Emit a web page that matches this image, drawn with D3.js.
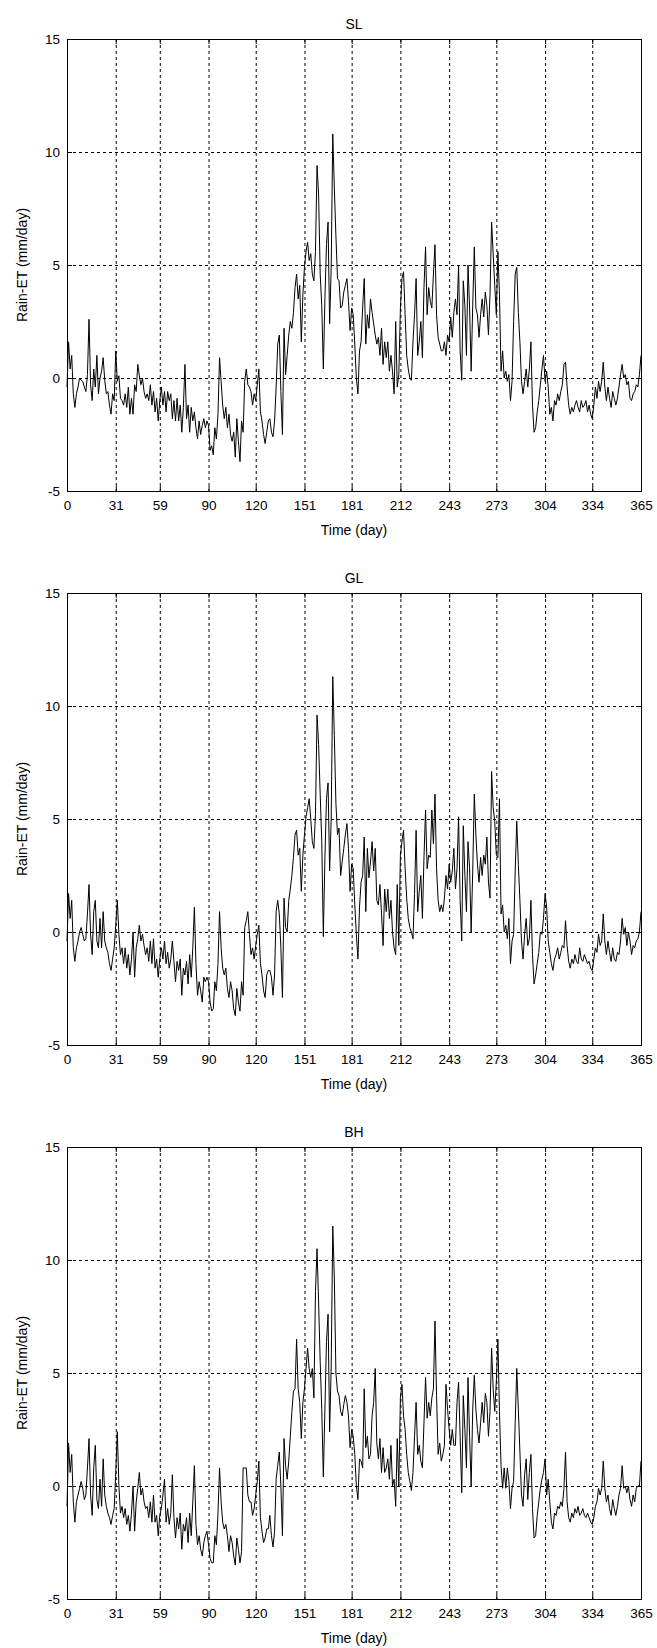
<!DOCTYPE html>
<html>
<head>
<meta charset="utf-8">
<script src="https://cdn.jsdelivr.net/npm/d3@7"></script>
<style>
  body { margin: 0; background: #fff; }
  text { font-family: "Liberation Sans", Arial, sans-serif; }
</style>
</head>
<body>
<div id="chart"></div>
<script>
// x ticks are month starts (days), y ticks in mm/day
const dayTicks = [0, 31, 59, 90, 120, 151, 181, 212, 243, 273, 304, 334, 365];
const valueTicks = [-5, 0, 5, 10, 15];
const panelTitles = ["SL", "GL", "BH"];

// daily Rain-ET (mm/day), day 0..365
const slValues = [
  -0.4, 1.6, 0.4, 1.0, -0.7, -1.3, -0.7, -0.4, 0.0, -0.1,
  -0.15, -0.4, -0.6, 0.15, 2.6, -0.3, -1.0, 0.4, -0.4, 1.0,
  -0.7, 0.0, 0.3, 0.9, -0.1, -0.7, -0.6, -1.2, -1.6, -0.7,
  -1.0, 1.2, -0.15, 0.1, -0.9, -1.0, -1.2, -0.7, -1.3, -0.4,
  -1.6, -0.9, -1.6, -0.3, -0.6, 0.6, 0.1, -0.3, 0.0, -0.6,
  -0.9, -0.7, -1.0, -0.3, -1.2, -0.6, -1.5, -0.9, -1.9, -1.0,
  -0.4, -1.2, -0.6, -1.5, -0.6, -1.0, -0.7, -1.8, -1.0, -1.9,
  -0.9, -1.9, -1.2, -2.4, -1.3, 0.6, -1.8, -1.2, -2.4, -1.3,
  -1.9, -1.5, -2.2, -2.7, -1.9, -2.5, -2.1, -1.8, -2.2, -1.9,
  -2.1, -3.2, -3.0, -3.4, -2.2, -2.7, -1.6, 0.9, -0.15, -1.2,
  -1.8, -1.3, -2.2, -1.6, -2.5, -2.8, -2.4, -3.5, -1.8, -2.8,
  -3.7, -1.9, -2.4, -0.15, 0.4, -0.3, -0.4, -0.6, -1.2, -0.7,
  -1.0, -0.3, 0.4, -1.5, -1.9, -2.5, -2.9, -2.4, -1.9, -1.8,
  -2.4, -2.6, -1.9, -0.4, 1.5, 1.9, -0.6, -2.5, 2.2, 0.15,
  1.0, 1.9, 2.5, 2.2, 2.9, 4.0, 4.6, 3.5, 4.1, 1.6,
  3.7, 4.9, 5.6, 6.0, 5.2, 5.5, 4.6, 4.3, 5.6, 9.4,
  8.1, 4.6, 3.2, 0.4, 3.5, 5.9, 6.9, 2.4, 4.9, 10.8,
  8.4, 6.3, 4.4, 4.3, 3.1, 3.2, 3.8, 4.1, 4.4, 3.4,
  2.1, 3.1, 2.8, 1.5, 0.0, -0.7, 1.2, 1.6, 3.1, 4.4,
  1.5, 2.8, 2.2, 3.5, 2.9, 2.4, 1.9, 1.5, 1.8, 1.0,
  2.2, 0.6, 1.6, 0.9, 1.6, 0.3, 1.0, 0.3, -0.7, 2.5,
  -0.4, 0.15, 3.1, 4.4, 4.7, 2.8, 1.0, 0.4, 0.0, -0.1,
  1.6, 2.8, 4.4, 1.0, 1.6, 2.5, 0.9, 4.0, 5.8, 2.8,
  4.0, 3.4, 3.1, 4.6, 5.9, 2.8, 1.8, 1.5, 1.2, 1.2,
  1.6, 1.0, 1.9, 1.6, 2.7, 1.8, 2.9, 3.5, 2.8, 5.0,
  1.2, -0.1, 4.3, 3.2, 1.0, 5.0, 3.1, 0.3, 3.2, 5.8,
  3.1, 2.8, 1.8, 2.8, 3.5, 2.7, 3.8, 3.2, 1.9, 3.7,
  6.9, 5.5, 4.1, 2.8, 5.6, 3.7, 0.3, 1.2, 0.0, 0.3,
  -0.15, 0.15, -1.0, -0.15, 2.5, 4.6, 4.9, 2.9, 1.6, -0.15,
  -0.7, -0.15, 0.4, -0.4, 0.4, 1.6, -1.2, -2.4, -2.2, -1.5,
  -1.0, -0.3, 0.4, 1.0, -0.15, 0.3, -0.4, -1.6, -1.3, -1.9,
  -1.0, -1.2, -0.7, -1.0, -0.6, -0.3, 0.6, 0.7, -0.4, -1.2,
  -1.6, -1.3, -1.5, -1.2, -1.0, -1.3, -1.5, -1.0, -1.3, -1.2,
  -1.0, -1.5, -1.2, -1.6, -1.8, -1.2, -0.4, -0.9, -0.15, -0.6,
  -0.15, 0.7, -0.4, -1.0, -0.4, -0.9, -1.3, -0.6, -0.9, -1.2,
  -0.9, -0.4, 0.15, 0.6, 0.0, 0.15, -0.3, -0.15, -0.9, -1.0,
  -0.7, -0.6, -0.3, -0.4, 0.15, 1.0
];

const glValues = [
  -0.4, 1.7, 0.6, 1.4, -0.7, -1.3, -0.7, -0.4, 0.0, 0.2,
  -0.1, -0.4, -0.3, 0.8, 2.1, -0.1, -1.0, 0.9, 1.4, -0.4,
  -0.7, 0.6, -0.7, 0.9, -0.4, -0.7, -0.9, -1.4, -1.7, -1.2,
  -0.7, 0.3, 1.4, -0.1, -1.0, -0.7, -1.4, -0.7, -1.6, -1.0,
  -1.9, -1.2, 0.0, -2.0, -0.7, -0.3, 0.3, -0.4, -0.1, -0.6,
  -1.0, -0.7, -1.3, -0.4, -1.4, -0.3, -1.6, -1.2, -2.0, -1.2,
  -0.7, -1.2, -0.4, -1.4, -0.9, -1.6, -1.2, -0.4, -1.3, -2.2,
  -1.3, -1.7, -1.2, -2.8, -1.6, -1.9, -1.3, -2.3, -1.0, -2.0,
  -0.7, 1.1, -1.4, -2.8, -2.2, -2.6, -3.1, -2.0, -2.2, -2.0,
  -2.2, -3.1, -3.5, -3.4, -2.2, -2.6, -1.4, 0.9, -0.7, -1.6,
  -1.9, -1.6, -2.5, -2.9, -2.2, -2.6, -3.4, -3.7, -2.5, -3.1,
  -3.5, -2.2, -2.8, 0.2, 0.5, 0.9, -0.1, -1.0, -0.7, -1.2,
  -0.6, -0.1, 0.3, -1.4, -1.9, -2.6, -2.9, -1.9, -1.7, -1.7,
  -2.0, -2.8, -1.9, 0.9, 1.4, 0.8, -0.7, -2.9, 1.5, 0.2,
  0.0, 1.4, 1.9, 2.5, 3.3, 4.3, 4.5, 3.4, 3.7, 1.8,
  3.4, 4.3, 5.1, 5.5, 5.9, 5.0, 4.0, 3.7, 5.2, 9.6,
  8.3, 6.1, 4.0, -0.2, 3.3, 5.9, 6.6, 2.7, 5.0, 11.3,
  8.7, 5.7, 4.3, 4.6, 2.5, 3.1, 3.7, 4.3, 4.8, 3.7,
  1.8, 3.0, 2.8, 1.2, -0.1, -1.2, 1.1, 2.2, 2.5, 4.2,
  0.9, 3.7, 2.4, 3.1, 4.0, 2.7, 3.7, 1.4, 1.2, 2.1,
  0.8, -0.6, 1.9, 0.9, 1.9, 0.6, 1.4, 0.0, -0.7, -1.0,
  2.1, -0.6, 3.4, 4.0, 4.5, 2.8, 1.5, 0.6, 0.2, 0.0,
  -0.3, 1.7, 4.5, 0.9, 1.8, 2.5, 0.6, 3.3, 5.4, 2.8,
  3.4, 3.3, 5.4, 3.9, 6.1, 2.8, 1.4, 0.9, 1.2, 0.9,
  1.5, 2.5, 1.9, 3.0, 2.2, 2.7, 3.7, 1.9, 2.8, 5.1,
  1.4, -0.4, 4.7, 2.5, 0.9, 4.0, 2.8, 0.0, 2.7, 6.1,
  4.3, 3.0, 2.2, 3.3, 2.5, 3.4, 3.0, 4.2, 2.2, 1.5,
  7.1, 5.5, 4.9, 3.4, 3.3, 5.9, 0.8, 1.2, 0.0, 0.3,
  -0.3, 0.6, -1.4, -0.4, -0.1, 2.7, 4.9, 3.0, 1.4, -0.4,
  -1.2, -0.1, 0.6, -0.6, -0.3, 1.4, -1.0, -2.3, -1.9, -1.4,
  -0.9, 0.0, -0.1, 0.6, 1.7, 1.1, -0.4, -0.9, -1.4, -1.7,
  -1.2, -1.0, -0.7, -1.2, -0.9, -0.6, -0.7, 0.5, -0.6, -1.3,
  -1.6, -1.2, -1.4, -1.0, -1.3, -1.4, -0.7, -1.2, -1.3, -1.0,
  -1.2, -1.4, -1.3, -1.6, -1.7, -1.2, -0.7, -0.9, -0.1, -0.6,
  -0.4, 0.8, -0.4, -1.0, -0.4, -0.9, -1.3, -0.7, -1.2, -1.3,
  -0.9, -1.0, -0.4, 0.6, -0.1, 0.2, -0.6, 0.0, -0.4, -1.0,
  -0.6, -0.7, -0.4, -0.3, 0.0, 0.9
];

const bhValues = [
  -0.9, 1.9, 0.6, 1.4, -0.7, -1.6, -0.7, -0.4, -0.1, 0.2,
  -0.1, -0.6, -0.4, 0.8, 2.1, -0.4, -1.3, 0.8, 1.8, -0.6,
  -1.0, 0.3, -0.9, 1.2, -0.4, -0.9, -1.2, -1.4, -1.7, -1.3,
  -1.0, 0.6, 2.4, 0.0, -1.2, -0.9, -1.4, -1.0, -1.7, -1.3,
  -2.0, -1.2, 0.0, -2.0, -0.7, -0.1, 0.6, -0.4, -0.1, -0.7,
  -1.0, -0.9, -1.4, -0.7, -1.6, -0.4, -1.6, -1.3, -2.2, -1.3,
  -1.0, -0.4, 0.3, -1.6, -1.0, -1.7, -1.2, 0.5, -1.4, -2.3,
  -1.4, -1.9, -1.2, -2.8, -1.7, -2.0, -1.4, -2.5, -1.2, -2.2,
  -0.7, 0.9, -1.7, -2.6, -2.2, -2.8, -3.1, -2.5, -2.2, -2.0,
  -2.6, -3.2, -3.4, -3.4, -2.2, -2.6, -1.2, 0.8, -0.7, -1.6,
  -1.9, -1.7, -2.2, -2.9, -2.2, -2.5, -3.1, -3.5, -2.3, -2.8,
  -3.4, -2.9, 0.8, 0.8, 0.8, -0.4, -0.7, -0.7, -1.3, -1.0,
  -0.4, 0.2, 1.1, -1.4, -2.0, -2.5, -2.3, -1.9, -1.9, -1.3,
  -2.2, -2.7, -2.0, 0.3, 0.9, 1.5, 0.0, -2.2, 2.1, 0.9,
  0.3, 1.1, 2.2, 3.3, 4.2, 4.3, 6.5, 4.3, 3.7, 2.1,
  3.7, 4.3, 5.2, 6.1, 5.2, 4.8, 5.2, 3.9, 8.6, 10.5,
  8.1, 5.5, 3.4, 0.4, 3.4, 6.4, 7.6, 2.4, 5.3, 11.5,
  9.2, 5.0, 4.2, 4.0, 3.3, 3.1, 3.6, 4.0, 3.7, 3.1,
  1.7, 2.5, 2.2, 1.4, 0.0, -0.6, 1.2, 1.1, 0.8, 4.3,
  1.7, 2.2, 1.2, 1.4, 3.1, 3.7, 5.2, 1.9, 1.2, 2.1,
  0.6, 1.7, 0.6, 0.8, 1.2, 0.3, 1.8, 0.0, 0.3, -0.9,
  2.1, 0.0, 3.9, 4.5, 3.1, 2.5, 1.4, 0.6, 0.2, -0.2,
  0.6, 2.2, 3.7, 1.4, 1.8, 1.1, 0.8, 2.8, 4.8, 3.0,
  3.7, 3.1, 3.9, 4.3, 7.3, 4.0, 1.4, 1.9, 1.1, 1.4,
  1.8, 4.5, 3.4, 2.5, 1.8, 2.5, 1.8, 1.8, 3.7, 4.6,
  2.2, -0.3, 4.0, 2.5, 0.8, 4.8, 2.2, 0.0, 3.4, 4.9,
  3.4, 2.5, 1.9, 2.8, 3.7, 2.8, 4.1, 3.7, 2.2, 3.3,
  6.1, 4.3, 3.3, 4.6, 6.5, 3.3, 0.9, -0.1, 0.8, -0.1,
  0.8, 0.2, -1.0, -0.1, 0.2, 2.8, 5.2, 3.4, 1.5, -0.4,
  -0.9, 0.5, 1.2, -0.6, 0.6, 1.4, -1.0, -2.3, -2.2, -1.3,
  -0.7, -0.1, 0.3, 0.6, 1.2, -0.4, 0.3, -0.7, -1.6, -1.9,
  -1.2, -1.3, -0.9, -1.0, -0.7, -0.9, -0.1, 1.5, -0.7, -1.4,
  -1.6, -1.2, -1.4, -1.0, -1.2, -0.9, -1.3, -1.2, -1.0, -1.3,
  -1.4, -1.2, -1.4, -1.6, -1.7, -1.4, -0.9, -0.7, -0.1, -0.4,
  -0.1, 1.1, -0.1, -0.7, -0.4, -1.0, -1.3, -0.6, -1.0, -1.3,
  -0.9, -0.4, -0.1, 0.9, -0.1, 0.0, -0.3, 0.0, -0.6, -0.9,
  -0.4, -0.7, -0.1, 0.0, 0.0, 1.1
];

const panelValues = [slValues, glValues, bhValues];

const width = 657, height = 1648;
const plot = {left: 67, width: 574, height: 452};
const panelTops = [39, 593, 1147];

const svg = d3.select("#chart")
  .append("svg")
    .attr("width", width)
    .attr("height", height)
    .style("display", "block");

svg.append("rect")
  .attr("width", width)
  .attr("height", height)
  .attr("fill", "#fff");

const x = d3.scaleLinear().domain([0, 365]).range([0, plot.width]);
const y = d3.scaleLinear().domain([-5, 15]).range([plot.height, 0]);

panelValues.forEach((values, p) => {
  const g = svg.append("g")
    .attr("transform", `translate(${plot.left}, ${panelTops[p]})`);

  // dotted grid
  g.append("g")
    .selectAll("line")
    .data(dayTicks.filter(d => d > 0 && d < 365))
    .join("line")
      .attr("x1", d => x(d) + 0.5)
      .attr("x2", d => x(d) + 0.5)
      .attr("y1", 0)
      .attr("y2", plot.height)
      .attr("stroke", "#000")
      .attr("stroke-width", 1)
      .attr("stroke-dasharray", "3,3");

  g.append("g")
    .selectAll("line")
    .data(valueTicks.filter(v => v > -5 && v < 15))
    .join("line")
      .attr("x1", 0)
      .attr("x2", plot.width)
      .attr("y1", d => Math.round(y(d)) + 0.5)
      .attr("y2", d => Math.round(y(d)) + 0.5)
      .attr("stroke", "#000")
      .attr("stroke-width", 1)
      .attr("stroke-dasharray", "3,3");

  // data line
  const line = d3.line()
    .x((d, i) => x(i))
    .y(d => y(d));

  g.append("path")
    .datum(values)
    .attr("fill", "none")
    .attr("stroke", "#000")
    .attr("stroke-width", 1)
    .attr("d", line);

  // axes, ticks pointing inside like matlab, plain hyphen for minus
  g.append("g")
    .attr("transform", `translate(0, ${plot.height})`)
    .call(d3.axisBottom(x).tickValues(dayTicks).tickSize(-5).tickSizeOuter(0).tickPadding(9).tickFormat(d => String(d)));
  g.append("g")
    .call(d3.axisLeft(y).tickValues(valueTicks).tickSize(-5).tickSizeOuter(0).tickPadding(7).tickFormat(d => String(d)));
  g.append("g")
    .call(d3.axisTop(x).tickValues(dayTicks).tickSize(-5).tickSizeOuter(0).tickFormat(""));
  g.append("g")
    .attr("transform", `translate(${plot.width}, 0)`)
    .call(d3.axisRight(y).tickValues(valueTicks).tickSize(-5).tickSizeOuter(0).tickFormat(""));

  g.selectAll(".tick text")
    .style("font-size", "13.5px")
    .style("font-family", "'Liberation Sans', Arial, sans-serif")
    .attr("fill", "#000");
  g.selectAll(".domain").remove();

  g.append("rect")
    .attr("x", 0.5)
    .attr("y", 0.5)
    .attr("width", plot.width)
    .attr("height", plot.height)
    .attr("fill", "none")
    .attr("stroke", "#000")
    .attr("stroke-width", 1);

  // title and labels
  g.append("text")
    .attr("x", plot.width / 2)
    .attr("y", -10)
    .attr("text-anchor", "middle")
    .style("font-size", "14px")
    .text(panelTitles[p]);

  g.append("text")
    .attr("x", plot.width / 2)
    .attr("y", plot.height + 44)
    .attr("text-anchor", "middle")
    .style("font-size", "14px")
    .text("Time (day)");

  g.append("text")
    .attr("transform", `translate(${23 - plot.left}, ${plot.height / 2}) rotate(-90)`)
    .attr("text-anchor", "middle")
    .attr("dominant-baseline", "middle")
    .style("font-size", "14px")
    .text("Rain-ET (mm/day)");
});
</script>
</body>
</html>
